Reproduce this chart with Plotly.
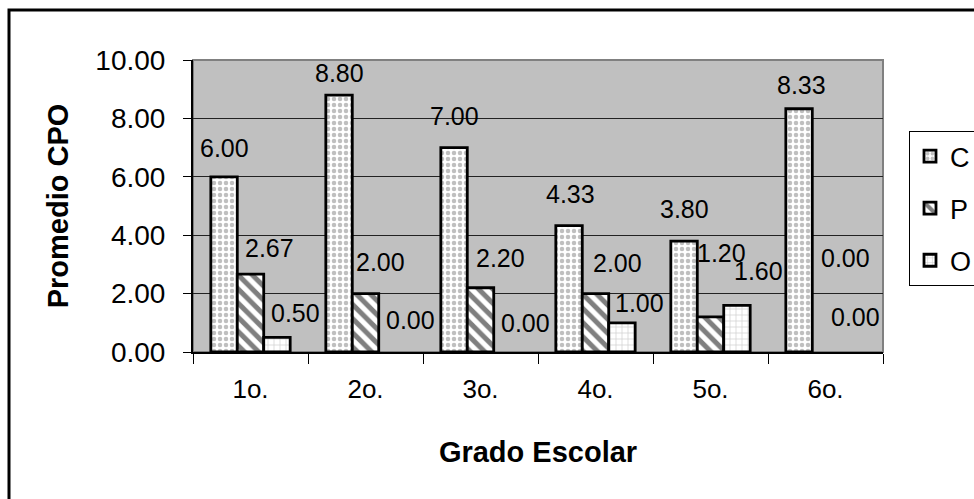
import plotly.graph_objects as go

# Average CPO index by school grade
grades = ["1o.", "2o.", "3o.", "4o.", "5o.", "6o."]
series_names = ["C", "P", "O"]
c_values = [6.00, 8.80, 7.00, 4.33, 3.80, 8.33]
p_values = [2.67, 2.00, 2.20, 2.00, 1.20, 0.00]
o_values = [0.50, 0.00, 0.00, 1.00, 1.60, 0.00]

# Label nudges in pixels (horizontal, and height of label centre above bar top)
c_dx = [0, 0, 0, 1, 0, 2]
c_dy = [29, 22, 32, 32, 32, 24]
p_dx = [19, 15, 20, 22, 11, 20]
p_dy = [26, 32, 30, 31, 64, 94]
o_dx = [19, 19, 19, 18, 22, 4]
o_dy = [24, 32, 29, 20, 34, 35]

FONT = "Arial, Liberation Sans, sans-serif"
BARGAP = 0.31

patterns = [
    dict(shape=".", fgcolor="#808080", bgcolor="white", size=6, solidity=0.45),
    dict(shape="\\", fgcolor="black", bgcolor="white", size=10, solidity=0.5),
    dict(shape="+", fgcolor="#a8a8a8", bgcolor="white", size=6, solidity=0.25),
]

values = [c_values, p_values, o_values]
dxs = [c_dx, p_dx, o_dx]
dys = [c_dy, p_dy, o_dy]

fig = go.Figure()
for k, (name, vals, pat) in enumerate(zip(series_names, values, patterns)):
    fig.add_trace(go.Bar(
        x=grades, y=vals, name=name, legendgroup=name,
        marker=dict(color="white", pattern=pat,
                    line=dict(color="black", width=[2.8 if v > 0 else 0 for v in vals])),
    ))

# Value labels, anchored on each bar's own value
bar_w = (1 - BARGAP) / len(series_names)
annotations = []
for k, vals in enumerate(values):
    for j, v in enumerate(vals):
        annotations.append(dict(
            x=j + (k - 1) * bar_w, y=v, xref="x", yref="y",
            text=f"{v:.2f}", showarrow=False,
            xshift=dxs[k][j], yshift=dys[k][j],
            xanchor="center", yanchor="middle",
            font=dict(family=FONT, size=25, color="black"),
        ))

fig.update_layout(
    width=974, height=499,
    margin=dict(l=193, r=91, t=60, b=147, autoexpand=False),
    paper_bgcolor="white", plot_bgcolor="#c0c0c0",
    barmode="group", bargap=BARGAP, bargroupgap=0,
    font=dict(family=FONT, color="black"),
    showlegend=True,
    legend=dict(
        x=(909 - 193) / 690, y=(352 - 131) / 292, xanchor="left", yanchor="top",
        bgcolor="white", bordercolor="black", borderwidth=1,
        font=dict(family=FONT, size=27, color="black"),
        tracegroupgap=14, itemwidth=30,
    ),
    annotations=annotations,
    shapes=[
        # plot-area frame (top/right edges)
        dict(type="rect", xref="paper", yref="paper", x0=0, x1=1, y0=0, y1=1,
             line=dict(color="#808080", width=2), layer="below"),
        # outer chart frame
        dict(type="rect", xref="paper", yref="paper",
             x0=(9 - 193) / 690, x1=1.3, y0=-0.7, y1=(352 - 10) / 292,
             line=dict(color="black", width=3)),
    ],
)

fig.update_xaxes(
    range=[-0.5, 5.5], showline=True, linecolor="black", linewidth=2,
    ticks="outside", tickson="boundaries", ticklen=10, tickcolor="black", tickwidth=1,
    tickfont=dict(family=FONT, size=26), ticklabelstandoff=13,
    showgrid=False,
    title=dict(text="<b>Grado Escolar</b>", font=dict(family=FONT, size=29), standoff=38),
)
fig.update_yaxes(
    range=[0, 10], dtick=2, tickformat=".2f", showline=True, linecolor="black", linewidth=2,
    ticks="outside", ticklen=8, tickcolor="black", tickwidth=1,
    tickfont=dict(family=FONT, size=28), ticklabelstandoff=12,
    showgrid=True, gridcolor="#222222", gridwidth=1, zeroline=False,
    title=dict(text="<b>Promedio CPO</b>", font=dict(family=FONT, size=29), standoff=18),
)

fig.write_html("out.html")
